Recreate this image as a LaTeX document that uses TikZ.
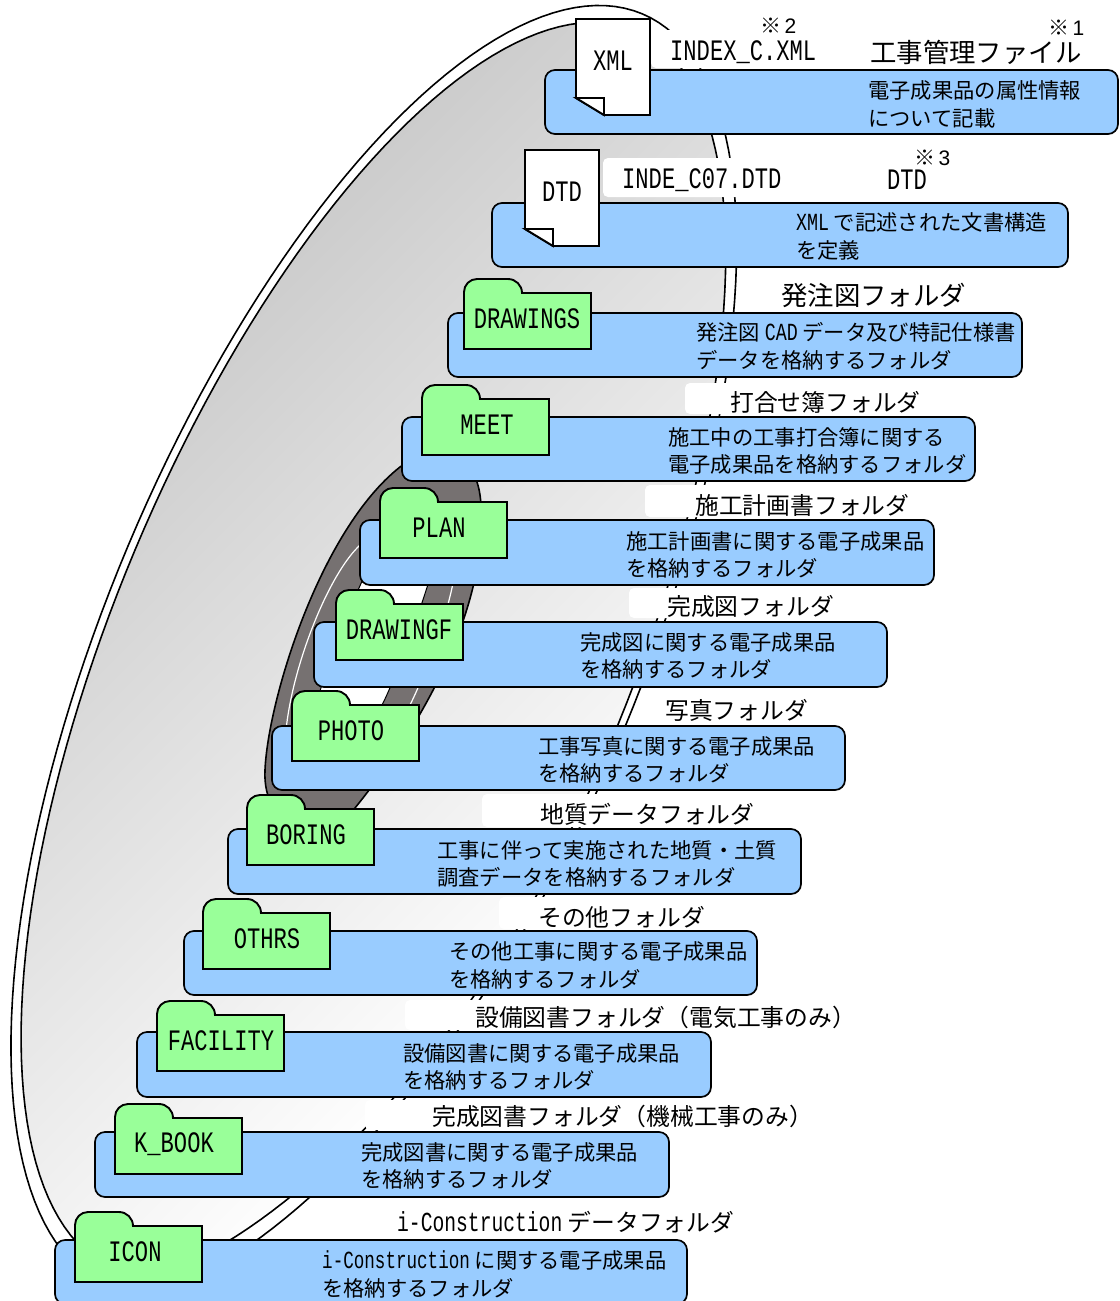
\documentclass[tikz,border=0pt]{standalone}
\usepackage{fontspec}
\newfontfamily\jp{Noto Sans CJK JP}
\newfontfamily\lat[FakeStretch=0.745,Scale=1.155]{Liberation Mono}
\newfontfamily\latn[FakeStretch=0.715,Scale=1.155]{Liberation Mono}
\newcommand{\la}[1]{{\lat #1}}
\newcommand{\lan}[1]{{\latn #1}}
\definecolor{boxblue}{HTML}{99CCFF}
\definecolor{foldergreen}{HTML}{99FF99}
\definecolor{ringgray}{HTML}{767171}
\pgfdeclareverticalshading{bandshade}{100bp}{rgb(0bp)=(1,1,1); rgb(39.86bp)=(1,1,1); rgb(66.5bp)=(.775,.775,.775); rgb(100bp)=(.775,.775,.775)}
\tikzset{
  declare function={
    mq(\t)=max(0,-cos(\t));
    ow(\t)=(sin(\t)>=0) ? 268*sin(\t) : 265*sin(\t)*(.982+.02*cos(\t)-.14*mq(\t)*mq(\t)*sqrt(mq(\t)));
    iw(\t)=(sin(\t)>=0) ? 260*sin(\t) : 253*sin(\t)*(1+.01*cos(\t)-.22*mq(\t)*mq(\t)*mq(\t));
  },
  band/.style={draw=black,line width=1.6pt},
  infobox/.style={draw=black,fill=boxblue,line width=1.7pt,rounded corners=10pt},
  foldershape/.style={draw=black,fill=foldergreen,line width=1.9pt},
  docshape/.style={draw=black,fill=white,line width=1.9pt},
  mask/.style={fill=white,rounded corners=5pt},
  desc/.style={anchor=west,inner sep=0pt,align=left,font={\jp\fontsize{21.3}{27.5}\selectfont}},
  title/.style={anchor=west,inner sep=0pt,font={\jp\fontsize{23.8}{27}\selectfont}},
  bigtitle/.style={anchor=west,inner sep=0pt,font={\jp\fontsize{26.4}{28}\selectfont}},
  tag/.style={anchor=center,inner sep=0pt,font={\lat\fontsize{25.7}{28}\selectfont}},
  note/.style={anchor=west,inner sep=0pt,font={\jp\fontsize{21}{24}\selectfont}}
}
% #1 node name #2 x #3 tab top #4 label x #5 text
\newcommand{\folder}[5]{%
  \draw[foldershape] (#2,#3+71) -- (#2,#3+14) arc[start angle=180,end angle=90,radius=13pt] -- (#2+44,#3+1)
    arc[start angle=90,end angle=0,radius=14pt] -- (#2+127,#3+15) -- (#2+127,#3+71) -- cycle;
  \node[tag] (#1) at (#4,#3+41) {#5};
}
\newcommand{\docicon}[4]{%
  \draw[docshape] (#2,#3) -- (#2+74,#3) -- (#2+74,#3+96) -- (#2+28,#3+96) -- (#2,#3+79) -- cycle;
  \draw[docshape] (#2,#3+79) -- (#2+28,#3+79) -- (#2+28,#3+96) -- cycle;
  \node[tag] (d#1) at (#2+37,#3+#4) {#1};
}
\def\outerband{plot[domain=0:358,samples=180,variable=\t] ({375+690*cos(\t)*.3875-ow(\t)*.9219},{650-690*cos(\t)*.9219-ow(\t)*.3875}) -- cycle}
\def\innerband{plot[domain=0:358,samples=180,variable=\t] ({375+672*cos(\t)*.3875-iw(\t)*.9219},{650-672*cos(\t)*.9219-iw(\t)*.3875}) -- cycle}
\begin{document}
\begin{tikzpicture}[x=1pt,y=-1pt]
\useasboundingbox (0,0) rectangle (1119,1301);
\clip (0,0) rectangle (1119,1301);
% big band
\draw[band,fill=white] \outerband;
\begin{scope}
  \clip \innerband;
  \shade[shading=bandshade,shading angle=45] (-300,-100) rectangle (1200,1400);
\end{scope}
\draw[band] \innerband;
% ring
\draw[band,fill=ringgray] (265,770) .. controls (268,700) and (320,530) .. (400,467)
  .. controls (440,440) and (478,450) .. (481,505)
  .. controls (487,580) and (450,690) .. (355,808)
  .. controls (320,845) and (262,830) .. (265,770) -- cycle;
\draw[white,line width=1.2pt] (285,745) .. controls (287,680) and (325,580) .. (358,547)
  .. controls (395,510) and (455,490) .. (458,540)
  .. controls (458,600) and (420,685) .. (410,705)
  .. controls (380,760) and (285,810) .. (285,745) -- cycle;
\draw[draw=black,line width=1pt,fill=white] (308,735) .. controls (320,680) and (355,590) .. (380,545)
  .. controls (400,515) and (445,500) .. (438,550)
  .. controls (425,600) and (395,680) .. (382,705)
  .. controls (350,760) and (300,790) .. (308,735) -- cycle;
% label masks
\fill[mask] (651,30) rectangle (1119,68);
\fill[mask] (603,158) rectangle (960,197);
\fill[mask] (685,383) rectangle (960,414);
\fill[mask] (645,485) rectangle (960,517);
\fill[mask] (629,588) rectangle (900,618);
\fill[mask] (640,692) rectangle (860,724);
\fill[mask] (482,794) rectangle (800,827);
\fill[mask] (499,897) rectangle (760,929);
\fill[mask] (405,1000) rectangle (900,1030);
\fill[mask] (365,1100) rectangle (900,1130);
% boxes
\draw[infobox] (545,70) rectangle (1118,134);
\draw[infobox] (492,203) rectangle (1068,267);
\draw[infobox] (448,313) rectangle (1022,377);
\draw[infobox] (402,417) rectangle (975,481);
\draw[infobox] (360,520) rectangle (934,585);
\draw[infobox] (314,622) rectangle (887,687);
\draw[infobox] (272,726) rectangle (845,790);
\draw[infobox] (228,829) rectangle (801,894);
\draw[infobox] (184,931) rectangle (757,995);
\draw[infobox] (137,1032) rectangle (711,1097);
\draw[infobox] (95,1132) rectangle (669,1197);
\draw[infobox] (55,1240) rectangle (687,1304);
% icons
\docicon{XML}{576}{19}{42}
\docicon{DTD}{525}{150}{42}
\folder{fa}{464}{278}{527}{DRAWINGS}
\folder{fb}{422}{384}{487}{MEET}
\folder{fc}{380}{487}{439}{PLAN}
\folder{fd}{336}{589}{399}{DRAWINGF}
\folder{fe}{292}{690}{351}{PHOTO}
\folder{ff}{247}{794}{306}{BORING}
\folder{fg}{203}{898}{267}{OTHRS}
\folder{fh}{157}{1000}{221}{FACILITY}
\folder{fi}{115}{1103}{174}{K\_BOOK}
\folder{fj}{75}{1211}{135}{ICON}
% texts
\node[tag,anchor=west] (t1) at (670,52) {INDEX\_C.XML};
\node[bigtitle] (t2) at (870,52) {工事管理ファイル};
\node[note] (n2) at (760,26) {※{\fontspec{Liberation Sans}\,2}};
\node[note] (n1) at (1048,28) {※{\fontspec{Liberation Sans}\,1}};
\node[desc] (x1) at (868,104.5) {電子成果品の属性情報\\について記載};
\node[tag,anchor=west] (t3) at (622,180) {INDE\_C07.DTD};
\node[tag,anchor=west] (t4) at (887,180) {DTD};
\node[note] (n3) at (914,158) {※{\fontspec{Liberation Sans}\,3}};
\node[desc] (x2) at (796,236.5) {\la{XML} で記述された文書構造\\を定義};
\node[bigtitle] (t5) at (781,295) {発注図フォルダ};
\node[desc] (x3) at (696,346.5) {発注図 \la{CAD} データ及び特記仕様書\\データを格納するフォルダ};
\node[title] (t6) at (730,402) {打合せ簿フォルダ};
\node[desc] (x4) at (668,451) {施工中の工事打合簿に関する\\電子成果品を格納するフォルダ};
\node[title] (t7) at (695,505) {施工計画書フォルダ};
\node[desc] (x5) at (626,555) {施工計画書に関する電子成果品\\を格納するフォルダ};
\node[title] (t8) at (667,606) {完成図フォルダ};
\node[desc] (x6) at (580,656) {完成図に関する電子成果品\\を格納するフォルダ};
\node[title] (t9) at (665,710) {写真フォルダ};
\node[desc] (x7) at (538,760) {工事写真に関する電子成果品\\を格納するフォルダ};
\node[title] (t10) at (540,814) {地質データフォルダ};
\node[desc] (x8) at (437,864) {工事に伴って実施された地質・土質\\調査データを格納するフォルダ};
\node[title] (t11) at (538,917) {その他フォルダ};
\node[desc] (x9) at (449,965.5) {その他工事に関する電子成果品\\を格納するフォルダ};
\node[title] (t12) at (475,1017) {設備図書フォルダ（電気工事のみ）};
\node[desc] (x10) at (403,1067) {設備図書に関する電子成果品\\を格納するフォルダ};
\node[title] (t13) at (432,1116) {完成図書フォルダ（機械工事のみ）};
\node[desc] (x11) at (361,1166) {完成図書に関する電子成果品\\を格納するフォルダ};
\node[title] (t14) at (397,1222) {\lan{i-Construction} データフォルダ};
\node[desc] (x12) at (322,1274.5) {\lan{i-Construction} に関する電子成果品\\を格納するフォルダ};
\end{tikzpicture}
\end{document}
